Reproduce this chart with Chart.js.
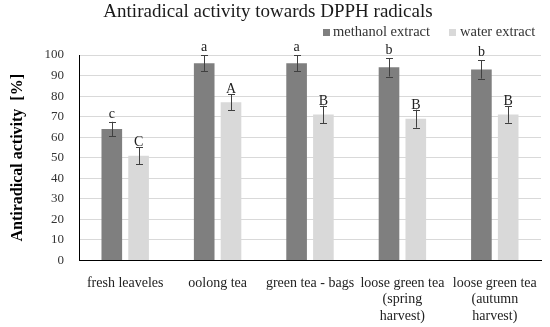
<!DOCTYPE html>
<html>
<head>
<meta charset="utf-8">
<script src="https://cdn.jsdelivr.net/npm/chart.js@4"></script>
<style>
html,body{margin:0;padding:0;background:#fff;}
#wrap{width:550px;height:327px;}
</style>
</head>
<body>
<div id="wrap"><canvas id="c" width="550" height="327"></canvas></div>
<script>
const categories = [
  "fresh leaveles",
  "oolong tea",
  "green tea - bags",
  ["loose green tea", "(spring", "harvest)"],
  ["loose green tea", "(autumn", "harvest)"]
];
const methanolValues = [64, 96, 96, 94, 93];
const waterValues = [51, 77, 71, 69, 71];
const methanolErrors = [3.5, 4, 4, 4.5, 4.5];
const waterErrors = [4.2, 4, 4.3, 4.4, 4];
const methanolLetters = ["c", "a", "a", "b", "b"];
const waterLetters = ["C", "A", "B", "B", "B"];
const yTicks = [0, 10, 20, 30, 40, 50, 60, 70, 80, 90, 100];

const FONT = "'Liberation Serif', 'Times New Roman', serif";
const errors = [methanolErrors, waterErrors];
const letters = [methanolLetters, waterLetters];

const errorPlugin = {
  id: 'errorBars',
  afterDatasetsDraw(chart) {
    const ctx = chart.ctx;
    const y = chart.scales.y;
    chart.data.datasets.forEach((ds, di) => {
      const meta = chart.getDatasetMeta(di);
      meta.data.forEach((bar, i) => {
        const v = ds.data[i];
        const e = errors[di][i];
        const yt = y.getPixelForValue(v + e);
        const yb = y.getPixelForValue(v - e);
        const x = Math.round(bar.x) + 0.5;
        ctx.save();
        ctx.strokeStyle = '#404040';
        ctx.lineWidth = 1;
        ctx.beginPath();
        ctx.moveTo(x, yt); ctx.lineTo(x, yb);
        ctx.moveTo(x - 3.5, Math.round(yt) + 0.5); ctx.lineTo(x + 3.5, Math.round(yt) + 0.5);
        ctx.moveTo(x - 3.5, Math.round(yb) + 0.5); ctx.lineTo(x + 3.5, Math.round(yb) + 0.5);
        ctx.stroke();
        ctx.fillStyle = '#222';
        ctx.font = "14px " + FONT;
        ctx.textAlign = 'center';
        ctx.textBaseline = 'alphabetic';
        const L = letters[di][i];
        const off = (L === L.toUpperCase()) ? 1 : 4;
        ctx.fillText(L, bar.x, yt - off);
        ctx.restore();
      });
    });
  }
};

const headerPlugin = {
  id: 'header',
  afterDraw(chart) {
    const ctx = chart.ctx;
    ctx.save();
    ctx.fillStyle = '#1a1a1a';
    ctx.font = "19px " + FONT;
    ctx.textAlign = 'center';
    ctx.textBaseline = 'alphabetic';
    ctx.fillText("Antiradical activity towards DPPH radicals", 268, 17);
    // legend
    const items = [
      {x: 323, tx: 333, label: chart.data.datasets[0].label, color: chart.data.datasets[0].backgroundColor},
      {x: 449, tx: 460, label: chart.data.datasets[1].label, color: chart.data.datasets[1].backgroundColor}
    ];
    ctx.font = "14.5px " + FONT;
    ctx.textAlign = 'left';
    items.forEach(it => {
      ctx.fillStyle = it.color;
      ctx.fillRect(it.x, 29, 7, 7);
      ctx.fillStyle = '#333';
      ctx.fillText(it.label, it.tx, 36);
    });
    ctx.restore();
  }
};

new Chart(document.getElementById('c'), {
  type: 'bar',
  data: {
    labels: categories,
    datasets: [
      {label: 'methanol extract', data: methanolValues, backgroundColor: '#7f7f7f',
       categoryPercentage: 0.58, barPercentage: 0.77},
      {label: 'water extract', data: waterValues, backgroundColor: '#d9d9d9',
       categoryPercentage: 0.58, barPercentage: 0.77}
    ]
  },
  options: {
    responsive: false,
    animation: false,
    layout: {padding: {top: 55, right: 9, left: 0, bottom: 0}},
    plugins: {
      legend: {display: false},
      title: {display: false},
      tooltip: {enabled: false}
    },
    scales: {
      y: {
        min: 0, max: 100,
        afterBuildTicks(s) { s.ticks = yTicks.map(v => ({value: v})); },
        afterFit(s) { s.width = 79; },
        ticks: {
          color: '#333', padding: 15,
          font: {family: FONT, size: 13}
        },
        grid: {color: '#d9d9d9', drawTicks: false, lineWidth: 1},
        border: {color: '#000', width: 1},
        title: {
          display: true, text: 'Antiradical activity  [%]', color: '#000',
          font: {family: FONT, size: 16, weight: 'bold'}, padding: {top: 8, bottom: 4}
        }
      },
      x: {
        afterFit(s) { s.height = 66.5; },
        ticks: {
          color: '#222', padding: 6, maxRotation: 0, autoSkip: false,
          font: {family: FONT, size: 14, lineHeight: 1.2}
        },
        grid: {display: false},
        border: {color: '#000', width: 1}
      }
    }
  },
  plugins: [errorPlugin, headerPlugin]
});
</script>
</body>
</html>
